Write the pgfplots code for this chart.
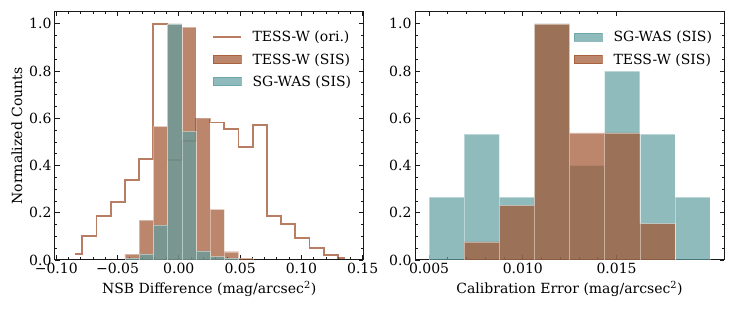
\documentclass[border=0pt]{standalone}
\usepackage{fontspec}
\setmainfont{DejaVu Serif}
\usepackage{pgfplots}
\pgfplotsset{compat=1.18}
\definecolor{sienna}{RGB}{160,82,45}
\definecolor{cadet}{RGB}{95,158,160}
\pgfplotsset{
  every axis/.append style={
    scale only axis, height=248pt,
    font=\fontsize{14}{16}\selectfont,
    axis line style={line width=1pt, black!90},
    every tick/.style={black!90, line width=0.8pt},
    major tick length=4.5pt, minor tick length=2.5pt,
    tick align=inside, tick pos=both,
    xticklabel pos=lower, yticklabel pos=lower,
    scaled x ticks=false, scaled y ticks=false,
    ymin=0, ymax=1.05,
    ytick={0,0.2,0.4,0.6,0.8,1.0},
    yticklabels={0.0,0.2,0.4,0.6,0.8,1.0},
    minor y tick num=3, minor x tick num=4,
    legend style={draw=none, fill=none, anchor=north west, legend cell align=left,
      nodes={inner sep=1pt}, row sep=8pt, font=\fontsize{14}{16}\selectfont},
  },
  patchleg/.style={legend image code/.code={\fill[#1, opacity=0.7] (0pt,-4pt) rectangle (28pt,4.3pt); \path (38.5pt,0pt);}},
  lineleg/.style={legend image code/.code={\draw[#1, opacity=0.75, line width=1.8pt] (0pt,0pt) -- (28pt,0pt); \path (38.5pt,0pt);}},
}
\begin{document}
\begin{tikzpicture}
\begin{axis}[at={(0pt,0pt)}, anchor=south west, width=308.3pt,
  xmin=-0.101, xmax=0.1505,
  xtick={-0.1,-0.05,0,0.05,0.1,0.15},
  xticklabels={−0.10,−0.05,0.00,0.05,0.10,0.15},
  xlabel={NSB Difference (mag/arcsec\textsuperscript{2})},
  ylabel={Normalized Counts},
  legend style={at={(0.499,0.935)}}]
\addplot[const plot mark mid, sienna, opacity=0.75, line width=1.8pt, forget plot] coordinates {
(-0.0845,0.025) (-0.0729,0.103) (-0.0613,0.186) (-0.0497,0.244) (-0.0382,0.338)
(-0.0266,0.428) (-0.0150,1.0) (-0.0034,0.422) (0.0082,0.503) (0.0197,0.599)
(0.0313,0.582) (0.0429,0.556) (0.0545,0.479) (0.0661,0.573) (0.0777,0.186)
(0.0892,0.151) (0.1008,0.092) (0.1124,0.052) (0.1240,0.021) (0.1356,0.007)};
\addplot[ybar interval, fill=sienna, fill opacity=0.7, draw=white, draw opacity=0.4, line width=0.4pt, forget plot] coordinates {
(-0.0440,0.025) (-0.0324,0.169) (-0.0208,0.566) (-0.0092,1.0) (0.0024,0.986)
(0.0140,0.601) (0.0255,0.214) (0.0371,0.035) (0.0487,0.008) (0.0603,0)};
\addplot[ybar interval, fill=cadet, fill opacity=0.7, draw=white, draw opacity=0.4, line width=0.4pt, forget plot] coordinates {
(-0.0440,0.008) (-0.0324,0.025) (-0.0208,0.148) (-0.0092,1.0) (0.0024,0.545)
(0.0140,0.039) (0.0255,0.014) (0.0371,0.008) (0.0487,0)};
\addlegendimage{lineleg=sienna}
\addlegendentry{TESS-W (ori.)}
\addlegendimage{patchleg=sienna}
\addlegendentry{TESS-W (SIS)}
\addlegendimage{patchleg=cadet}
\addlegendentry{SG-WAS (SIS)}
\end{axis}
\begin{axis}[at={(360pt,0pt)}, anchor=south west, width=309pt,
  xmin=0.00425, xmax=0.02073,
  xtick={0.005,0.01,0.015},
  xticklabels={0.005,0.010,0.015},
  xlabel={Calibration Error (mag/arcsec\textsuperscript{2})},
  legend style={at={(0.503,0.935)}}]
\addplot[ybar interval, fill=cadet, fill opacity=0.7, draw=white, draw opacity=0.4, line width=0.4pt, forget plot] coordinates {
(0.005,0.2667) (0.0068725,0.5333) (0.008745,0.2667) (0.0106175,1.0) (0.01249,0.4)
(0.0143625,0.8) (0.016235,0.5333) (0.0181075,0.2667) (0.01998,0)};
\addplot[ybar interval, fill=sienna, fill opacity=0.7, draw=white, draw opacity=0.4, line width=0.4pt, forget plot] coordinates {
(0.0068725,0.0769) (0.008745,0.2308) (0.0106175,1.0) (0.01249,0.5385) (0.0143625,0.5385)
(0.016235,0.1538) (0.0181075,0)};
\addlegendimage{patchleg=cadet}
\addlegendentry{SG-WAS (SIS)}
\addlegendimage{patchleg=sienna}
\addlegendentry{TESS-W (SIS)}
\end{axis}
\pgfresetboundingbox
\path (-55pt,-50pt) rectangle (681pt,260pt);
\end{tikzpicture}
\end{document}
